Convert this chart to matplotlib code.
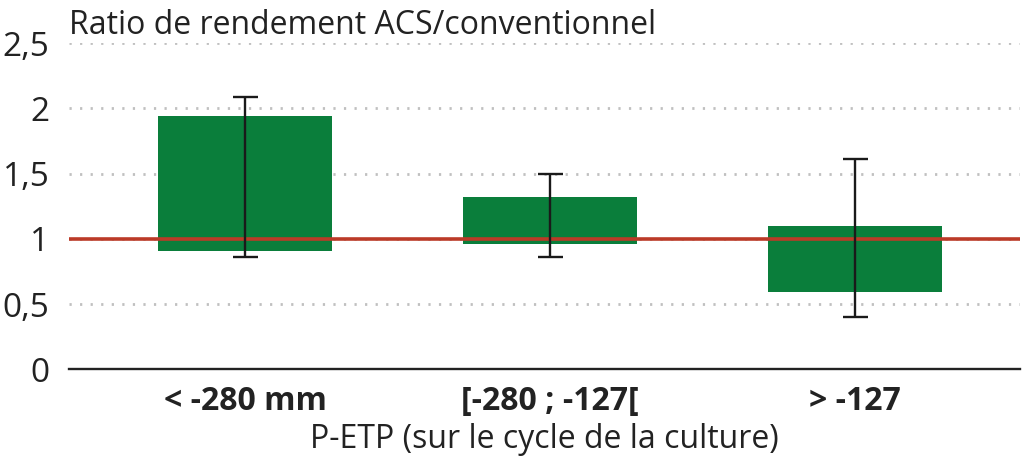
import matplotlib
matplotlib.use("Agg")
import matplotlib.pyplot as plt
import numpy as np

categories = ["< -280 mm", "[-280 ; -127[", "> -127"]
bar_low = [0.91, 0.96, 0.59]
bar_high = [1.94, 1.32, 1.10]
err_low = [0.86, 0.86, 0.40]
err_high = [2.09, 1.50, 1.61]
yticks = [0, 0.5, 1, 1.5, 2, 2.5]
ytick_labels = ["0", "0,5", "1", "1,5", "2", "2,5"]
ref_value = 1.0

plt.rcParams['font.family'] = ['Open Sans', 'DejaVu Sans']

fig = plt.figure(figsize=(10.24, 4.63), dpi=100)
ax = fig.add_axes([69/1024, 1-369.3/463, (1020-69)/1024, (369.3-43.3)/463])

x = np.arange(len(categories))
heights = [h - l for h, l in zip(bar_high, bar_low)]
ax.bar(x, heights, bottom=bar_low, width=0.57, color="#0a7e3b", zorder=2)

mid = [(a + b) / 2 for a, b in zip(err_low, err_high)]
half = [(b - a) / 2 for a, b in zip(err_low, err_high)]
ax.errorbar(x, mid, yerr=half, fmt='none', ecolor="#1a1a1a", elinewidth=1.7,
            capsize=9, capthick=1.7, zorder=4)

ax.axhline(ref_value, color="#bb3a27", lw=2.6, zorder=3)

for yv in yticks[1:]:
    ax.axhline(yv, color="#c0c0c0", lw=2.0, linestyle=(0, (0.8, 3.0)), zorder=1)

ax.set_xlim(-0.577, 2.54)
ax.set_ylim(0, 2.5)
ax.set_yticks(yticks)
ax.set_yticklabels(ytick_labels, fontsize=24, color="#222222")
ax.set_xticks(x)
ax.set_xticklabels(categories, fontsize=23, fontweight='bold', color="#222222")
ax.tick_params(axis='both', length=0)
ax.tick_params(axis='y', pad=14)
ax.tick_params(axis='x', pad=11)
for s in ["top", "right", "left"]:
    ax.spines[s].set_visible(False)
ax.spines["bottom"].set_linewidth(1.7)
ax.spines["bottom"].set_color("#222222")

ax.set_xlabel("P-ETP (sur le cycle de la culture)", fontsize=23, color="#222222", labelpad=4)
fig.text(69/1024, 1-34/463, "Ratio de rendement ACS/conventionnel", fontsize=23,
         color="#222222", ha='left', va='baseline')

fig.savefig("out.png", dpi=100)
